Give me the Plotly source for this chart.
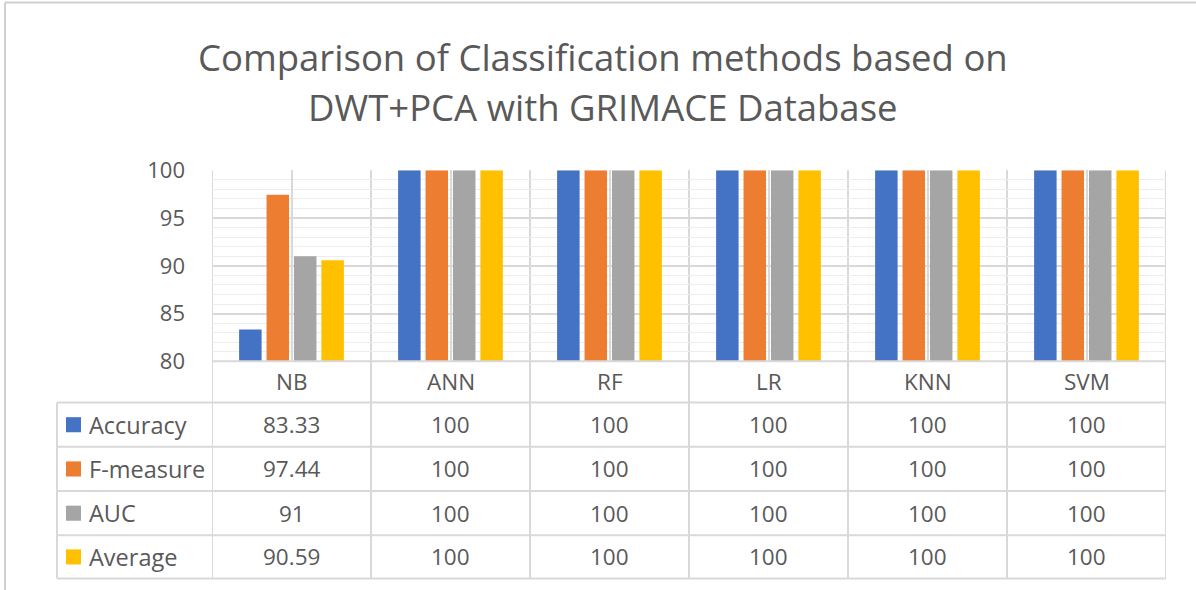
import plotly.graph_objects as go

categories = ["NB", "ANN", "RF", "LR", "KNN", "SVM"]
series_names = ["Accuracy", "F-measure", "AUC", "Average"]
accuracy = [83.33, 100, 100, 100, 100, 100]
f_measure = [97.44, 100, 100, 100, 100, 100]
auc = [91, 100, 100, 100, 100, 100]
average = [90.59, 100, 100, 100, 100, 100]
series_values = [accuracy, f_measure, auc, average]
colors = ["#4472C4", "#ED7D31", "#A5A5A5", "#FFC000"]
title_lines = ["Comparison of Classification methods based on", "DWT+PCA with GRIMACE Database"]

W, H = 1196, 590
FONT = "Open Sans"
TXT = "#595959"
LINE = "#D9D9D9"

# observed vertical offset/scale of the captured page
Y_OFF, Y_SCALE = 17.5, 0.944


def px(x):
    return x / W


def py(y):
    return 1 - ((y - Y_OFF) / Y_SCALE) / H


plot_l, plot_r, plot_t, plot_b = 212, 1166, 171, 361
row_edges = [402, 446, 490, 534, 577]
table_left = 57

fig = go.Figure()
for name, vals, col in zip(series_names, series_values, colors):
    fig.add_trace(go.Bar(x=categories, y=vals, name=name, marker_color=col,
                         marker_line_width=0, showlegend=False))

shapes = []
for i in range(len(categories) + 1):
    shapes.append(dict(type="line", xref="x", yref="paper", x0=i - 0.5, x1=i - 0.5,
                       y0=py(plot_t), y1=py(row_edges[-1]), line=dict(color=LINE, width=2), layer="below"))
shapes.append(dict(type="line", xref="paper", yref="paper", x0=px(plot_l), x1=px(plot_r),
                   y0=py(plot_b), y1=py(plot_b), line=dict(color=LINE, width=2)))
for ye in row_edges:
    shapes.append(dict(type="line", xref="paper", yref="paper", x0=px(table_left), x1=px(plot_r),
                       y0=py(ye), y1=py(ye), line=dict(color=LINE, width=2)))
shapes.append(dict(type="line", xref="paper", yref="paper", x0=px(table_left), x1=px(table_left),
                   y0=py(row_edges[0]), y1=py(row_edges[-1]), line=dict(color=LINE, width=2)))
# outer frame (left and top edges)
shapes.append(dict(type="line", xref="paper", yref="paper", x0=px(5), x1=px(5),
                   y0=py(640), y1=py(4), line=dict(color="#D0D0D0", width=2)))
shapes.append(dict(type="line", xref="paper", yref="paper", x0=px(5), x1=1,
                   y0=py(4), y1=py(4), line=dict(color="#D0D0D0", width=2)))

annotations = []
for k, t in enumerate(title_lines):
    annotations.append(dict(text=t, xref="paper", yref="paper", x=px(603), y=py(58 + 50 * k),
                            xanchor="center", yanchor="middle", showarrow=False,
                            font=dict(family=FONT, size=36.5, color=TXT)))
for c in categories:
    annotations.append(dict(text=c, xref="x", yref="paper", x=c, y=py((plot_b + row_edges[0]) / 2),
                            xanchor="center", yanchor="middle", showarrow=False,
                            font=dict(family=FONT, size=22.5, color=TXT)))
for r, (name, vals, col) in enumerate(zip(series_names, series_values, colors)):
    yc = (row_edges[r] + row_edges[r + 1]) / 2
    shapes.append(dict(type="rect", xref="paper", yref="paper", x0=px(66), x1=px(81),
                       y0=py(yc + 7.5), y1=py(yc - 7.5), fillcolor=col, line=dict(width=0)))
    annotations.append(dict(text=name, xref="paper", yref="paper", x=px(87), y=py(yc),
                            xanchor="left", yanchor="middle", showarrow=False,
                            font=dict(family=FONT, size=23.5, color=TXT)))
    for c, v in zip(categories, vals):
        annotations.append(dict(text=f"{v:g}", xref="x", yref="paper", x=c, y=py(yc),
                                xanchor="center", yanchor="middle", showarrow=False,
                                font=dict(family=FONT, size=22.5, color=TXT)))

fig.update_layout(
    width=W, height=H, autosize=False,
    margin=dict(l=0, r=0, t=0, b=0, pad=0),
    paper_bgcolor="white", plot_bgcolor="white",
    barmode="group", bargap=0.31, bargroupgap=0.18,
    shapes=shapes, annotations=annotations,
    xaxis=dict(domain=[px(plot_l), px(plot_r)], showticklabels=False, showgrid=True,
               gridcolor=LINE, gridwidth=2, ticks="", showline=False, zeroline=False,
               range=[-0.5, 5.5]),
    yaxis=dict(domain=[py(plot_b), py(plot_t)], range=[80, 100], dtick=5, showgrid=True,
               gridcolor=LINE, gridwidth=2, zeroline=False, showline=False,
               ticks="", ticklabelstandoff=26,
               tickfont=dict(family=FONT, size=22, color=TXT),
               minor=dict(dtick=1, showgrid=True, gridcolor="#EDEDED", gridwidth=1)),
)

fig.write_html("out.html", config={"displayModeBar": False, "responsive": False},
               post_script="document.body.style.margin='0';document.body.style.overflow='hidden';")
